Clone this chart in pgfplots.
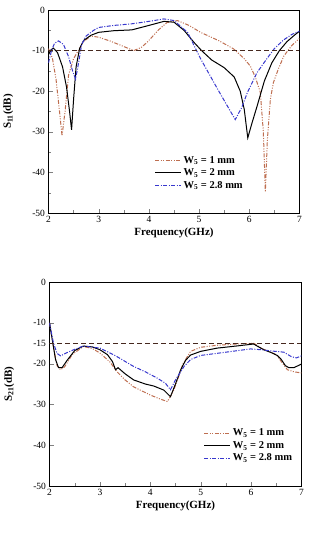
\documentclass[border=0pt]{standalone}
\usepackage{pgfplots}
\pgfplotsset{compat=1.18}
\usepackage{fontspec}
\setmainfont{Liberation Serif}
\definecolor{cbrown}{RGB}{190,110,80}
\definecolor{cblue}{RGB}{55,55,205}
\definecolor{cdash}{RGB}{70,40,30}
\pgfplotsset{
  myax/.style={
    scale only axis, width=251pt, height=203pt,
    xmin=2, xmax=7, ymin=-50, ymax=0,
    xtick={2,3,4,5,6,7}, minor x tick num=1,
    minor y tick num=1,
    tick align=inside, tick pos=left,
    ticklabel style={font=\fontsize{9.5}{11}\selectfont},
    /pgf/number format/assume math mode=true,
    xlabel={\textbf{Frequency(GHz)}},
    xlabel style={font=\fontsize{11}{13}\selectfont, yshift=2pt},
    ylabel style={font=\fontsize{11}{13}\selectfont},
    legend style={draw=none, fill=none, font=\bfseries\fontsize{10.5}{12}\selectfont, row sep=0pt, anchor=north west, cells={anchor=west}},
    legend image code/.code={\draw[#1] (0pt,0pt) -- (26pt,0pt);},
    every axis plot/.append style={line width=1pt},
  }
}
\begin{document}
\begin{tikzpicture}
\path (0,0) rectangle (309pt,550pt);
\begin{axis}[myax, at={(48pt,337pt)}, anchor=south west,
  ytick={-50,-40,-30,-20,-10,0},
  ylabel={\textbf{S\textsubscript{11}(dB)}},
  ylabel style={at={(axis description cs:-0.16,0.5)}, anchor=center},
  legend style={at={(axis description cs:0.41,0.30)}},
  clip=true]
\addplot[cbrown, dash pattern=on 4pt off 1.5pt on 1pt off 1.5pt on 1pt off 1.5pt] coordinates {
(2,-9.5) (2.08,-12) (2.15,-17) (2.22,-25) (2.27,-31) (2.33,-25) (2.4,-16) (2.5,-12) (2.57,-10.5) (2.7,-7.8) (2.84,-6.4) (3.0,-6.7) (3.24,-7.7) (3.5,-9) (3.7,-10) (3.85,-9.2) (3.97,-7.9) (4.2,-4.8) (4.36,-3.1) (4.57,-2.6) (4.8,-3.8) (5.03,-5.5) (5.4,-7.6) (5.69,-9.6) (5.9,-12) (6.02,-13.8) (6.12,-16.5) (6.22,-20.3) (6.28,-30) (6.32,-44.8) (6.36,-32) (6.42,-22) (6.48,-17.9) (6.58,-14.5) (6.69,-11.3) (6.85,-8.7) (7,-7)};
\addlegendentry{W\textsubscript{5} = 1 mm}
\addplot[black] coordinates {
(2,-11) (2.05,-9.8) (2.1,-9.4) (2.18,-10.5) (2.28,-14) (2.36,-19) (2.42,-25) (2.46,-29.5) (2.5,-22) (2.55,-14) (2.62,-9.5) (2.7,-7.5) (2.85,-6.2) (3.0,-5.5) (3.3,-5.1) (3.66,-4.9) (4.0,-3.8) (4.3,-2.8) (4.5,-3) (4.7,-5) (4.9,-8) (5.05,-10) (5.25,-12.3) (5.5,-14.2) (5.7,-16.5) (5.82,-20) (5.9,-24.5) (5.97,-31.5) (6.05,-28) (6.16,-23.5) (6.3,-17.5) (6.45,-13) (6.6,-10) (6.75,-7.8) (6.9,-6.2) (7,-5.2)};
\addlegendentry{W\textsubscript{5} = 2 mm}
\addplot[cblue, dash pattern=on 4pt off 1.5pt on 1pt off 1.5pt] coordinates {
(2,-13) (2.06,-10) (2.12,-8.2) (2.2,-7.6) (2.3,-8.5) (2.4,-11.5) (2.48,-15) (2.54,-17) (2.6,-13) (2.66,-8.5) (2.75,-6.4) (2.9,-5) (3.0,-4.3) (3.3,-3.8) (3.66,-3.4) (4.0,-2.8) (4.3,-2.2) (4.5,-2.6) (4.77,-5.5) (5.03,-12) (5.37,-19.5) (5.72,-27) (5.85,-24) (5.96,-20.4) (6.15,-15.5) (6.35,-12) (6.5,-9.5) (6.68,-7.4) (6.85,-6) (7,-5.2)};
\addlegendentry{W\textsubscript{5} = 2.8 mm}
\addplot[cdash, dash pattern=on 5pt off 3pt, forget plot] coordinates {(2,-10) (7,-10)};
\node[font=\fontsize{11}{13}\selectfont] at (axis description cs:0.5,-0.26) {(a)};
\end{axis}
\begin{axis}[myax, at={(49pt,64pt)}, anchor=south west, width=252pt, height=204pt,
  ytick={-50,-40,-30,-20,-15,-10,0},
  ylabel={\textbf{S\textsubscript{21}(dB)}},
  ylabel style={at={(axis description cs:-0.16,0.5)}, anchor=center},
  legend style={at={(axis description cs:0.60,0.30)}},
  clip=true]
\addplot[cbrown, dash pattern=on 4pt off 1.5pt on 1pt off 1.5pt on 1pt off 1.5pt] coordinates {
(2,-10) (2.08,-16) (2.15,-20.5) (2.22,-21.5) (2.3,-20.8) (2.45,-17.8) (2.67,-15.8) (2.85,-16.3) (3.0,-17.4) (3.2,-19.6) (3.34,-22) (3.5,-24) (3.67,-25.7) (4.0,-27.7) (4.2,-28.7) (4.34,-29.3) (4.45,-27) (4.54,-24) (4.65,-20) (4.8,-17) (5.0,-16) (5.33,-15.5) (5.7,-15.2) (6.05,-15) (6.25,-16.5) (6.5,-17.8) (6.6,-19.5) (6.72,-21.5) (6.85,-22) (7,-22.3)};
\addlegendentry{W\textsubscript{5} = 1 mm}
\addplot[black] coordinates {
(2,-10) (2.06,-14.5) (2.12,-19) (2.18,-21) (2.25,-21) (2.35,-19.2) (2.5,-16.8) (2.67,-15.7) (2.85,-15.9) (3.0,-16.6) (3.15,-17.8) (3.25,-19.5) (3.31,-21.5) (3.36,-21) (3.5,-22.5) (3.67,-24) (3.9,-25) (4.07,-25.5) (4.27,-26.5) (4.4,-28.1) (4.5,-25) (4.6,-21.6) (4.7,-19.2) (4.8,-17.9) (5.0,-17) (5.33,-16.2) (5.7,-15.7) (6.05,-15.2) (6.25,-16.6) (6.4,-17.3) (6.52,-18) (6.6,-19) (6.68,-20.5) (6.75,-21) (6.85,-21) (7,-20.1)};
\addlegendentry{W\textsubscript{5} = 2 mm}
\addplot[cblue, dash pattern=on 4pt off 1.5pt on 1pt off 1.5pt] coordinates {
(2,-10) (2.08,-15) (2.15,-17.5) (2.22,-18.1) (2.35,-17.3) (2.48,-16.6) (2.67,-15.7) (3.0,-16.2) (3.3,-18) (3.67,-20.7) (3.9,-22) (4.13,-23.5) (4.3,-24.8) (4.4,-26.4) (4.5,-24) (4.67,-20.7) (4.8,-19) (5.0,-18) (5.5,-17.2) (5.99,-16.4) (6.2,-16.6) (6.4,-16.9) (6.65,-17.2) (6.8,-18.3) (6.9,-18.6) (7,-18.1)};
\addlegendentry{W\textsubscript{5} = 2.8 mm}
\addplot[cdash, dash pattern=on 5pt off 3pt, forget plot] coordinates {(2,-15) (7,-15)};
\node[font=\fontsize{11}{13}\selectfont] at (axis description cs:0.5,-0.25) {(b)};
\end{axis}
\end{tikzpicture}
\end{document}
